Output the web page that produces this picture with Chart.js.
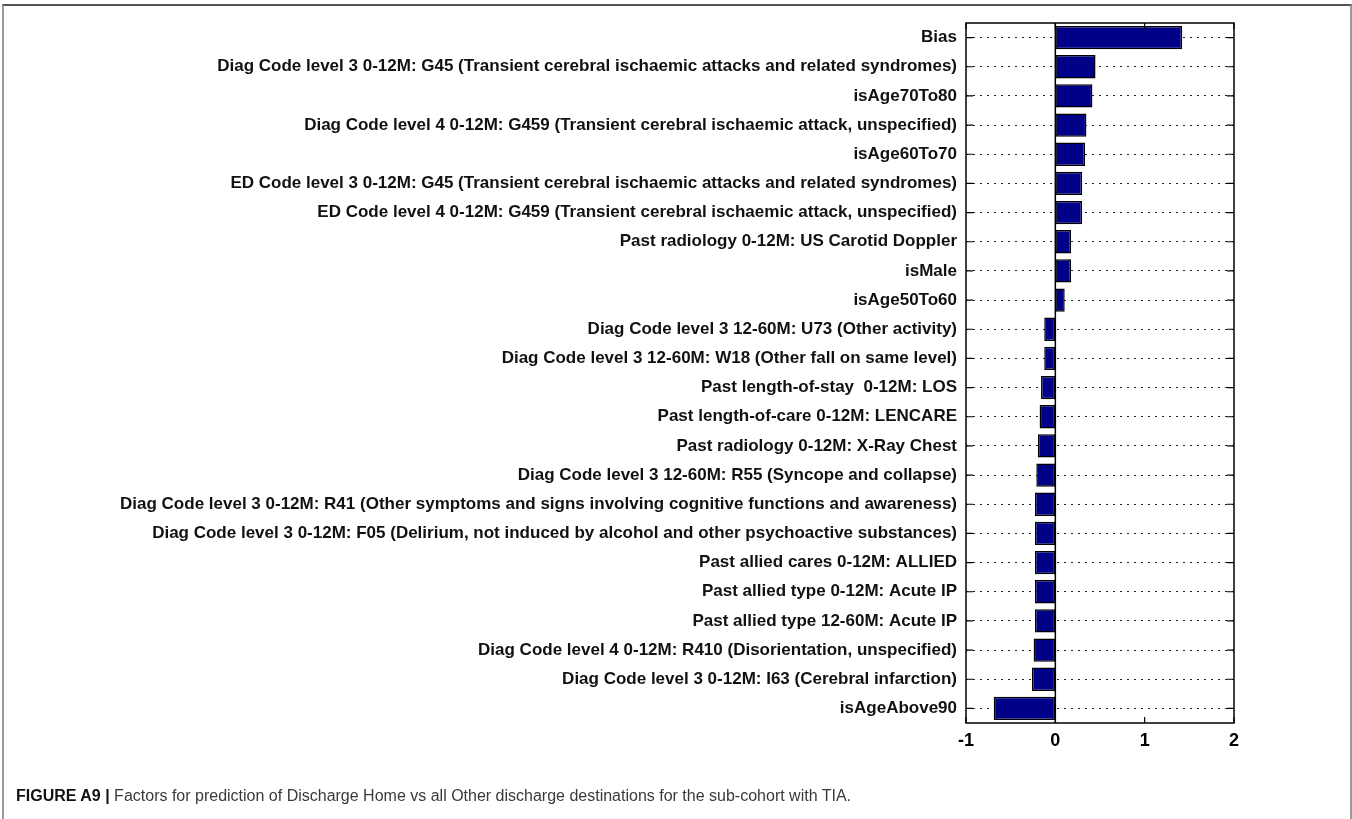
<!DOCTYPE html>
<html>
<head>
<meta charset="utf-8">
<script src="https://cdn.jsdelivr.net/npm/chart.js@4.4.1/dist/chart.umd.min.js"></script>
<style>
  html, body { margin: 0; padding: 0; background: #fff; }
  #wrap { position: relative; width: 1352px; height: 819px; overflow: hidden; }
  #frame { position: absolute; left: 2px; top: 4px; width: 1346px; height: 830px;
           border-top: 2px solid #555; border-left: 2px solid #999; border-right: 2px solid #999; }
  #chart { position: absolute; left: 0; top: 0; }
  #caption { position: absolute; left: 16px; top: 787px; font-family: "Liberation Sans", Arial, sans-serif;
             font-size: 16px; color: #3a3a3a; white-space: nowrap; }
  #caption b { color: #111; }
</style>
</head>
<body>
<div id="wrap">
  <div id="frame"></div>
  <canvas id="chart" width="1352" height="819"></canvas>
  <div id="caption"><b>FIGURE A9 |</b> Factors for prediction of Discharge Home vs all Other discharge destinations for the sub-cohort with TIA.</div>
</div>
<script>
const factors = [
  'Bias',
  'Diag Code level 3 0-12M: G45 (Transient cerebral ischaemic attacks and related syndromes)',
  'isAge70To80',
  'Diag Code level 4 0-12M: G459 (Transient cerebral ischaemic attack, unspecified)',
  'isAge60To70',
  'ED Code level 3 0-12M: G45 (Transient cerebral ischaemic attacks and related syndromes)',
  'ED Code level 4 0-12M: G459 (Transient cerebral ischaemic attack, unspecified)',
  'Past radiology 0-12M: US Carotid Doppler',
  'isMale',
  'isAge50To60',
  'Diag Code level 3 12-60M: U73 (Other activity)',
  'Diag Code level 3 12-60M: W18 (Other fall on same level)',
  'Past length-of-stay  0-12M: LOS',
  'Past length-of-care 0-12M: LENCARE',
  'Past radiology 0-12M: X-Ray Chest',
  'Diag Code level 3 12-60M: R55 (Syncope and collapse)',
  'Diag Code level 3 0-12M: R41 (Other symptoms and signs involving cognitive functions and awareness)',
  'Diag Code level 3 0-12M: F05 (Delirium, not induced by alcohol and other psychoactive substances)',
  'Past allied cares 0-12M: ALLIED',
  'Past allied type 0-12M: Acute IP',
  'Past allied type 12-60M: Acute IP',
  'Diag Code level 4 0-12M: R410 (Disorientation, unspecified)',
  'Diag Code level 3 0-12M: I63 (Cerebral infarction)',
  'isAgeAbove90'
];

const weights = [
  1.42, 0.45, 0.415, 0.348, 0.333, 0.30, 0.30, 0.176, 0.176, 0.105,
  -0.124, -0.124, -0.16, -0.176, -0.195, -0.213, -0.228, -0.228, -0.228, -0.228,
  -0.228, -0.243, -0.262, -0.69
];

const xTicks = [-1, 0, 1, 2];

// box, inward tick marks and the zero line
const boxPlugin = {
  id: 'box',
  beforeDatasetsDraw(chart) {
    const { ctx, chartArea: a, scales } = chart;
    ctx.save();
    ctx.strokeStyle = '#000';
    ctx.lineWidth = 1.5;
    const x0 = scales.x.getPixelForValue(0);
    ctx.beginPath();
    ctx.moveTo(x0, a.top);
    ctx.lineTo(x0, a.bottom);
    ctx.stroke();
    ctx.restore();
  },
  afterDraw(chart) {
    const { ctx, chartArea: a, scales } = chart;
    ctx.save();
    ctx.strokeStyle = '#000';
    ctx.lineWidth = 1.5;
    ctx.strokeRect(a.left, a.top, a.right - a.left, a.bottom - a.top);
    ctx.lineWidth = 1.2;
    ctx.beginPath();
    factors.forEach((f, i) => {
      const y = scales.y.getPixelForValue(i);
      ctx.moveTo(a.left, y); ctx.lineTo(a.left + 7, y);
      ctx.moveTo(a.right, y); ctx.lineTo(a.right - 7, y);
    });
    xTicks.forEach(v => {
      const x = scales.x.getPixelForValue(v);
      ctx.moveTo(x, a.top); ctx.lineTo(x, a.top + 6);
      ctx.moveTo(x, a.bottom); ctx.lineTo(x, a.bottom - 6);
    });
    ctx.stroke();
    ctx.restore();
  }
};

new Chart(document.getElementById('chart'), {
  type: 'bar',
  data: {
    labels: factors,
    datasets: [{
      data: weights,
      backgroundColor: '#000088',
      borderColor: '#000',
      borderWidth: 1.5,
      borderSkipped: false,
      barPercentage: 0.8,
      categoryPercentage: 1.0
    }]
  },
  options: {
    indexAxis: 'y',
    responsive: false,
    animation: false,
    devicePixelRatio: 1,
    layout: { padding: { left: 0, top: 23, right: 118, bottom: 60 } },
    plugins: { legend: { display: false }, tooltip: { enabled: false } },
    scales: {
      x: {
        min: -1,
        max: 2,
        afterBuildTicks(scale) { scale.ticks = xTicks.map(v => ({ value: v })); },
        afterFit(scale) { scale.height = 36; },
        grid: { display: false, drawTicks: false },
        border: { display: false },
        ticks: {
          color: '#000',
          padding: 7,
          font: { family: 'Liberation Sans, Arial, sans-serif', size: 18, weight: 'bold' }
        }
      },
      y: {
        afterFit(scale) { scale.width = 966; },
        grid: { color: '#222', lineWidth: 1, drawTicks: false, offset: false },
        border: { display: false, dash: [2, 5] },
        ticks: {
          color: '#111',
          padding: 9,
          autoSkip: false,
          font: { family: 'Liberation Sans, Arial, sans-serif', size: 17, weight: 'bold' }
        }
      }
    }
  },
  plugins: [boxPlugin]
});
</script>
</body>
</html>
